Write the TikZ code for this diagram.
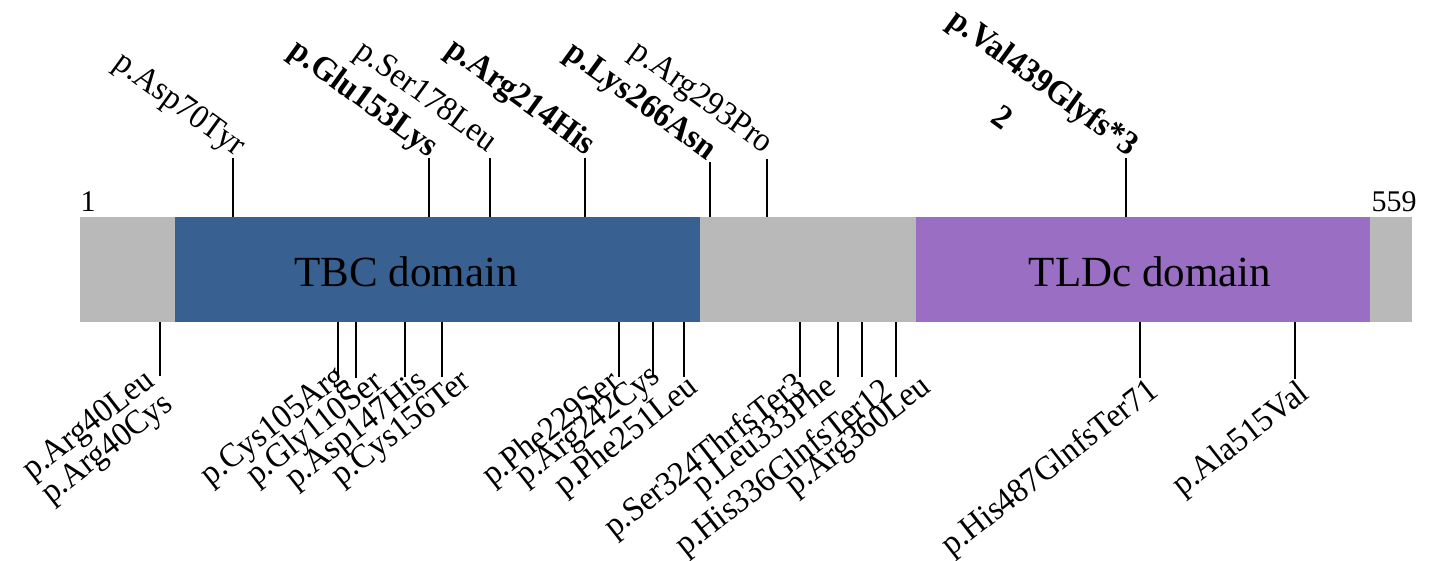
\documentclass[tikz,border=0pt]{standalone}
\usepackage{fontspec}
\setmainfont{Liberation Serif}
\newfontfamily\labfont[FakeStretch=0.95]{Liberation Serif}
\definecolor{bargrey}{RGB}{185,185,185}
\definecolor{tbcblue}{RGB}{56,97,145}
\definecolor{tldpurple}{RGB}{154,110,194}
\begin{document}
\begin{tikzpicture}[x=1pt,y=-1pt,
  mut/.style={font=\labfont\fontsize{34}{30}\selectfont, inner sep=0pt},
  boldmut/.style={font=\labfont\fontsize{34}{30}\selectfont\bfseries},
  toplab/.style={mut, rotate=-36, anchor=base east},
  botlab/.style={mut, rotate=38, anchor=north east},
  tickline/.style={line width=2.8pt, black},
  domlab/.style={font=\fontsize{43}{43}\selectfont, inner sep=0pt, anchor=base},
  endlab/.style={font=\fontsize{30}{30}\selectfont, inner sep=0pt, anchor=base}]
\useasboundingbox (0,0) rectangle (1434,561);
% protein bar
\fill[bargrey] (80,217) rectangle (1412,322);
\fill[tbcblue] (175,217) rectangle (700,322);
\fill[tldpurple] (916,217) rectangle (1370,322);
\node[domlab] (tbc) at (406,287) {TBC domain};
\node[domlab] (tldc) at (1150,287) {TLDc domain};
\node[endlab] (n1) at (88,212) {1};
\node[endlab] (n559) at (1394,212) {559};
% top ticks
\coordinate (a70) at (233,217); \coordinate (b70) at (233,158);
\coordinate (a153) at (429,217); \coordinate (b153) at (429,158);
\coordinate (a178) at (490,217); \coordinate (b178) at (490,158);
\coordinate (a214) at (585,217); \coordinate (b214) at (585,158);
\coordinate (a266) at (710,217); \coordinate (b266) at (710,162);
\coordinate (a293) at (767,217); \coordinate (b293) at (767,159);
\coordinate (a439) at (1126,217); \coordinate (b439) at (1126,158);
\foreach \k in {70,153,178,214,266,293,439} \draw[tickline] (a\k) -- (b\k);
\node[toplab] (l70) at (236,157) {p.Asp70Tyr};
\node[toplab, boldmut] (l153) at (429,158) {p.Glu153Lys};
\node[toplab] (l178) at (488,153) {p.Ser178Leu};
\node[toplab, boldmut] (l214) at (586,156) {p.Arg214His};
\node[toplab, boldmut] (l266) at (707,161) {p.Lys266Asn};
\node[toplab] (l293) at (764,154) {p.Arg293Pro};
\node[toplab, boldmut] (l439) at (1129,157) {p.Val439Glyfs*3};
\node[mut, rotate=-36, boldmut] (l439b) at (1003,117) {2};
% bottom ticks
\coordinate (c40) at (160,322); \coordinate (d40) at (160,376);
\coordinate (c105) at (338,322); \coordinate (d105) at (338,380);
\coordinate (c110) at (356,322); \coordinate (d110) at (356,378);
\coordinate (c147) at (405,322); \coordinate (d147) at (405,377);
\coordinate (c156) at (442,322); \coordinate (d156) at (442,377);
\coordinate (c229) at (619,322); \coordinate (d229) at (619,377);
\coordinate (c242) at (653,322); \coordinate (d242) at (653,377);
\coordinate (c251) at (684,322); \coordinate (d251) at (684,377);
\coordinate (c324) at (800,322); \coordinate (d324) at (800,377);
\coordinate (c333) at (838,322); \coordinate (d333) at (838,377);
\coordinate (c336) at (862,322); \coordinate (d336) at (862,377);
\coordinate (c360) at (896,322); \coordinate (d360) at (896,377);
\coordinate (c487) at (1140,322); \coordinate (d487) at (1140,378);
\coordinate (c515) at (1295,322); \coordinate (d515) at (1295,379);
\foreach \k in {40,105,110,147,156,229,242,251,324,333,336,360,487,515} \draw[tickline] (c\k) -- (d\k);
\node[botlab, align=right] (l40) at (142,366) {p.Arg40Leu\\p.Arg40Cys};
\node[botlab] (l105) at (333,362) {p.Cys105Arg};
\node[botlab] (l110) at (370,367) {p.Gly110Ser};
\node[botlab] (l147) at (415,367) {p.Asp147His};
\node[botlab] (l156) at (458,367) {p.Cys156Ter};
\node[botlab] (l229) at (607,367) {p.Phe229Ser};
\node[botlab] (l242) at (648,362) {p.Arg242Cys};
\node[botlab] (l251) at (685,372) {p.Phe251Leu};
\node[botlab] (l324) at (792,369) {p.Ser324ThrfsTer3};
\node[botlab] (l333) at (823,372) {p.Leu333Phe};
\node[botlab] (l336) at (879,375) {p.His336GlnfsTer12};
\node[botlab] (l360) at (918,372) {p.Arg360Leu};
\node[botlab] (l487) at (1145,375) {p.His487GlnfsTer71};
\node[botlab] (l515) at (1296,378) {p.Ala515Val};
\end{tikzpicture}
\end{document}
